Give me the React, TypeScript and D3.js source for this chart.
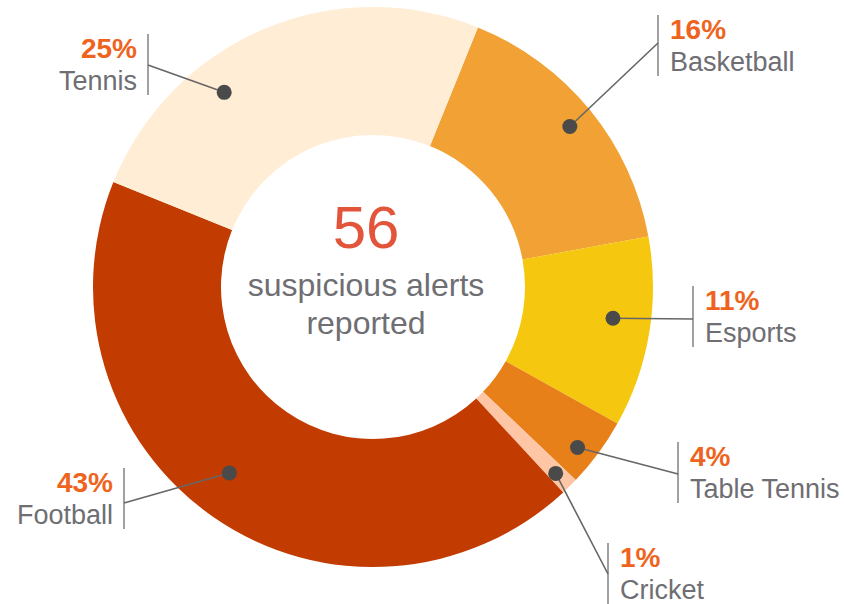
import * as d3 from "d3";
import * as React from "react";

// values
const categories = ["Basketball", "Esports", "Table Tennis", "Cricket", "Football", "Tennis"];
const shares = [16, 11, 4, 1, 43, 25];
const sliceColors = ["#F2A134", "#F5C80F", "#E8801A", "#FFC6A6", "#C23B00", "#FFEDD5"];
const totalAlerts = 56;
const centerLines = ["suspicious alerts", "reported"];

// label layout (bar anchor, where the dot sits inside its slice)
interface LabelLayout {
    side: "left" | "right";
    barX: number;
    barTop: number;
    hook: number;
    frac: number;
    radius: number;
}
const labelLayout: LabelLayout[] = [
    { side: "right", barX: 658, barTop: 15, hook: 28, frac: 0.5, radius: 254 },
    { side: "right", barX: 693, barTop: 286, hook: 33, frac: 0.45, radius: 242 },
    { side: "right", barX: 678, barTop: 442, hook: 32, frac: 0.62, radius: 260 },
    { side: "right", barX: 608, barTop: 543, hook: 31, frac: 0.55, radius: 261 },
    { side: "left", barX: 124, barTop: 468, hook: 35, frac: 0.52, radius: 235 },
    { side: "left", barX: 148, barTop: 34, hook: 31, frac: 0.34, radius: 245 },
];

const W = 844;
const H = 604;
const cx = 373;
const cy = 287;
const outerR = 280;
const innerR = 152;
const startDeg = 22;
const font = "'Liberation Sans', Arial, Helvetica, sans-serif";

interface Slice {
    label: string;
    value: number;
    color: string;
    layout: LabelLayout;
}

export default function App(): JSX.Element {
    React.useEffect(() => {
        document.body.style.margin = "0";
    }, []);

    const data: Slice[] = categories.map((c, i) => ({
        label: c,
        value: shares[i],
        color: sliceColors[i],
        layout: labelLayout[i],
    }));

    const start = (startDeg * Math.PI) / 180;
    const arcs = d3.pie<Slice>()
        .sort(null)
        .value(d => d.value)
        .startAngle(start)
        .endAngle(start + 2 * Math.PI)(data);

    const arcGen = d3.arc<d3.PieArcDatum<Slice>>()
        .innerRadius(innerR)
        .outerRadius(outerR);

    return (
        <svg width={W} height={H} style={{ display: "block" }} fontFamily={font}>
            <g transform={`translate(${cx},${cy})`}>
                {arcs.map(a => (
                    <path key={a.data.label} d={arcGen(a) || ""} fill={a.data.color} />
                ))}
            </g>
            {arcs.map(a => {
                const L = a.data.layout;
                const ang = a.startAngle + L.frac * (a.endAngle - a.startAngle);
                const dx = cx + L.radius * Math.sin(ang);
                const dy = cy - L.radius * Math.cos(ang);
                const hookY = L.barTop + L.hook;
                const tx = L.side === "right" ? L.barX + 12 : L.barX - 11;
                const anchor = L.side === "right" ? "start" : "end";
                return (
                    <g key={"lab-" + a.data.label}>
                        <line x1={L.barX} x2={L.barX} y1={L.barTop} y2={L.barTop + 61}
                            stroke="#8a8a8a" strokeWidth={1.6} />
                        <line x1={dx} y1={dy} x2={L.barX} y2={hookY}
                            stroke="#666" strokeWidth={1.6} />
                        <circle cx={dx} cy={dy} r={7.5} fill="#4a4a4a" />
                        <text x={tx} y={L.barTop + 24} textAnchor={anchor}
                            fontSize={28} fontWeight="bold" fill="#EE641E">
                            {a.data.value}%
                        </text>
                        <text x={tx} y={L.barTop + 56} textAnchor={anchor}
                            fontSize={27} fill="#6e6e73">
                            {a.data.label}
                        </text>
                    </g>
                );
            })}
            <text x={cx - 7} y={248} textAnchor="middle" fontSize={60} fill="#E2553A">
                {totalAlerts}
            </text>
            {centerLines.map((t, i) => (
                <text key={t} x={cx - 7} y={296 + i * 38} textAnchor="middle"
                    fontSize={32} fill="#6e6e73">
                    {t}
                </text>
            ))}
        </svg>
    );
}
